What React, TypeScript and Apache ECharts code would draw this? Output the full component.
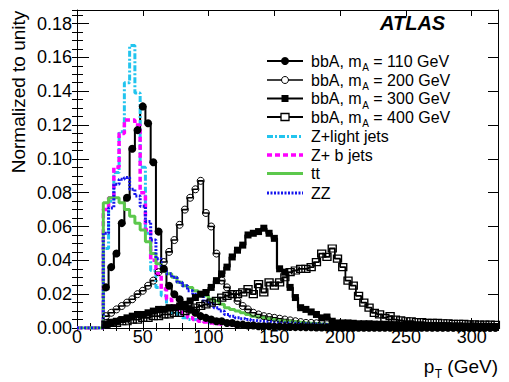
import React, { useEffect, useRef } from "react";
import * as echarts from "echarts";

const FONT = "'Liberation Sans', Arial, Helvetica, sans-serif";

// Histogram binning (GeV)
const BIN_WIDTH = 4;
const FIRST_EDGE = 20;
const X_MIN = 0;
const X_MAX = 320;
const Y_MIN = 0;
const Y_MAX = 0.188;
const X_MAJOR = 50;
const X_MINOR = 10;
const Y_MAJOR = 0.02;
const Y_MINOR = 0.005;

// bin contents for bins starting at 20, 24, 28, ... 316 GeV
const bbA110 = [
  0.024, 0.036, 0.044, 0.062, 0.077, 0.106, 0.117, 0.131, 0.121, 0.098,
  0.057, 0.035, 0.025, 0.02, 0.017, 0.013, 0.011, 0.009, 0.007, 0.006,
  0.005, 0.004, 0.004, 0.003, 0.003, 0.002, 0.002, 0.0015, 0.0015, 0.001,
  0.001, 0.001, 0.0008, 0.0008, 0.0006, 0.0006, 0.0005, 0.0005, 0.0004, 0.0004,
  0.0003, 0.0003, 0.0003, 0.0003, 0.0003, 0.0002, 0.0002, 0.0002, 0.0002, 0.0002,
  0.0002, 0.0002, 0.0001, 0.0001, 0.0001, 0.0001, 0.0001, 0.0001, 0.0001, 0.0001,
  0.0001, 0.0001, 0.0001, 0.0001, 0.0001, 0.0001, 0.0001, 0.0001, 0.0001, 0.0001,
  0.0001, 0.0001, 0.0001, 0.0001, 0.0001,
];
const bbA200 = [
  0.007, 0.009, 0.011, 0.013, 0.015, 0.017, 0.02, 0.022, 0.025, 0.028,
  0.033, 0.039, 0.045, 0.052, 0.061, 0.07, 0.077, 0.082, 0.087, 0.068,
  0.06, 0.044, 0.028, 0.024, 0.02, 0.016, 0.013, 0.011, 0.009, 0.008,
  0.007, 0.0065, 0.006, 0.0055, 0.005, 0.0045, 0.004, 0.0035, 0.003, 0.003,
  0.0028, 0.0025, 0.0022, 0.002, 0.002, 0.0018, 0.0016, 0.0015, 0.0014, 0.0012,
  0.0012, 0.001, 0.001, 0.0009, 0.0008, 0.0008, 0.0007, 0.0007, 0.0006, 0.0006,
  0.0005, 0.0005, 0.0005, 0.0004, 0.0004, 0.0004, 0.0003, 0.0003, 0.0003, 0.0003,
  0.0003, 0.0002, 0.0002, 0.0002, 0.0002,
];
const bbA300 = [
  0.002, 0.003, 0.004, 0.005, 0.006, 0.007, 0.008, 0.008, 0.009, 0.01,
  0.011, 0.011, 0.012, 0.012, 0.013, 0.014, 0.016, 0.018, 0.02, 0.021,
  0.024, 0.028, 0.032, 0.036, 0.042, 0.046, 0.049, 0.055, 0.056, 0.057,
  0.059, 0.056, 0.053, 0.035, 0.033, 0.024, 0.018, 0.012, 0.011, 0.0095,
  0.008, 0.006, 0.0065, 0.004, 0.003, 0.003, 0.003, 0.0028, 0.0025, 0.0025,
  0.0025, 0.0023, 0.0022, 0.002, 0.002, 0.002, 0.0018, 0.0018, 0.0016, 0.0016,
  0.0015, 0.0015, 0.0014, 0.0014, 0.0015, 0.0013, 0.0012, 0.0012, 0.0011, 0.0011,
  0.0012, 0.001, 0.001, 0.0009, 0.0009,
];
const bbA400 = [
  0.002, 0.003, 0.003, 0.004, 0.004, 0.005, 0.005, 0.006, 0.006, 0.007,
  0.007, 0.008, 0.008, 0.009, 0.009, 0.01, 0.011, 0.012, 0.013, 0.014,
  0.015, 0.016, 0.018, 0.019, 0.02, 0.02, 0.021, 0.023, 0.02, 0.026,
  0.021, 0.027, 0.025, 0.027, 0.03, 0.033, 0.034, 0.035, 0.035, 0.036,
  0.039, 0.044, 0.042, 0.047, 0.041, 0.036, 0.028, 0.025, 0.019, 0.015,
  0.012, 0.009, 0.008, 0.006, 0.007, 0.005, 0.0045, 0.004, 0.004, 0.0035,
  0.0035, 0.003, 0.003, 0.003, 0.0028, 0.0028, 0.0025, 0.0025, 0.0024, 0.0022,
  0.0022, 0.002, 0.002, 0.002, 0.0018,
];
const zLightJets = [
  0.047, 0.075, 0.092, 0.116, 0.145, 0.167, 0.139, 0.095, 0.056, 0.034,
  0.024, 0.019, 0.013, 0.009, 0.008, 0.006, 0.005, 0.005, 0.004, 0.004,
  0.003, 0.003, 0.0025, 0.0022, 0.002, 0.0018, 0.0016, 0.0014, 0.0012, 0.001,
  0.001, 0.0009, 0.0008, 0.0008, 0.0007, 0.0007, 0.0006, 0.0006, 0.0005, 0.0005,
  0.0005, 0.0004, 0.0004, 0.0004, 0.0004, 0.0003, 0.0003, 0.0003, 0.0003, 0.0003,
  0.0003, 0.0002, 0.0002, 0.0002, 0.0002, 0.0002, 0.0002, 0.0002, 0.0002, 0.0002,
  0.0002, 0.0002, 0.0002, 0.0002, 0.0002, 0.0002, 0.0002, 0.0002, 0.0002, 0.0002,
  0.0002, 0.0002, 0.0002, 0.0002, 0.0002,
];
const zBJets = [
  0.07, 0.077, 0.095, 0.115, 0.123, 0.123, 0.12, 0.08, 0.058, 0.04,
  0.032, 0.023, 0.017, 0.013, 0.011, 0.008, 0.006, 0.005, 0.004, 0.0035,
  0.003, 0.0025, 0.0022, 0.002, 0.0018, 0.0016, 0.0014, 0.0012, 0.0011, 0.001,
  0.001, 0.0009, 0.0008, 0.0007, 0.0007, 0.0006, 0.0006, 0.0005, 0.0005, 0.0005,
  0.0004, 0.0004, 0.0004, 0.0004, 0.0003, 0.0003, 0.0003, 0.0003, 0.0003, 0.0003,
  0.0002, 0.0002, 0.0002, 0.0002, 0.0002, 0.0002, 0.0002, 0.0002, 0.0002, 0.0002,
  0.0002, 0.0002, 0.0002, 0.0002, 0.0002, 0.0002, 0.0002, 0.0002, 0.0002, 0.0002,
  0.0002, 0.0002, 0.0002, 0.0002, 0.0002,
];
const ttbar = [
  0.074, 0.077, 0.077, 0.074, 0.07, 0.066, 0.062, 0.058, 0.051, 0.044,
  0.038, 0.034, 0.032, 0.03, 0.027, 0.025, 0.024, 0.022, 0.021, 0.019,
  0.017, 0.016, 0.014, 0.012, 0.011, 0.01, 0.009, 0.008, 0.007, 0.0065,
  0.006, 0.0055, 0.005, 0.0045, 0.0042, 0.004, 0.0037, 0.0034, 0.003, 0.0028,
  0.0026, 0.0024, 0.0022, 0.002, 0.0019, 0.0018, 0.0016, 0.0015, 0.0014, 0.0013,
  0.0012, 0.0011, 0.001, 0.001, 0.0009, 0.0009, 0.0008, 0.0008, 0.0007, 0.0007,
  0.0006, 0.0006, 0.0006, 0.0005, 0.0005, 0.0005, 0.0005, 0.0004, 0.0004, 0.0004,
  0.0004, 0.0004, 0.0003, 0.0003, 0.0003,
];
const zz = [
  0.056, 0.071, 0.085, 0.088, 0.089, 0.082, 0.078, 0.072, 0.063, 0.052,
  0.041, 0.035, 0.032, 0.03, 0.027, 0.025, 0.022, 0.02, 0.019, 0.016,
  0.014, 0.012, 0.01, 0.008, 0.007, 0.006, 0.0055, 0.005, 0.0045, 0.0042,
  0.004, 0.0038, 0.0035, 0.0033, 0.003, 0.003, 0.0028, 0.0026, 0.0025, 0.0024,
  0.0023, 0.0022, 0.0021, 0.002, 0.002, 0.0019, 0.0019, 0.0018, 0.0018, 0.0017,
  0.0017, 0.0016, 0.0016, 0.0015, 0.0015, 0.0015, 0.0014, 0.0014, 0.0014, 0.0013,
  0.0013, 0.0013, 0.0012, 0.0012, 0.0012, 0.0012, 0.0011, 0.0011, 0.0011, 0.0011,
  0.001, 0.001, 0.001, 0.001, 0.001,
];

type Def = {
  label: string[]; // [main, subscript, rest]
  values: number[];
  color: string;
  width: number;
  dash?: number[];
  symbol?: string;
  size?: number | number[];
  fill?: string;
  border?: number;
};

const defs: Def[] = [
  { label: ["bbA, m", "A", " = 110 GeV"], values: bbA110, color: "#000", width: 2, symbol: "circle", size: 8, fill: "#000", border: 0 },
  { label: ["bbA, m", "A", " = 200 GeV"], values: bbA200, color: "#000", width: 1.6, symbol: "circle", size: 7, fill: "rgba(255,255,255,0)", border: 1 },
  { label: ["bbA, m", "A", " = 300 GeV"], values: bbA300, color: "#000", width: 2.2, symbol: "rect", size: 7, fill: "#000", border: 0 },
  { label: ["bbA, m", "A", " = 400 GeV"], values: bbA400, color: "#000", width: 1.8, symbol: "rect", size: [8, 7], fill: "rgba(255,255,255,0)", border: 1.3 },
  { label: ["Z+light jets"], values: zLightJets, color: "#22c4ee", width: 3, dash: [6, 2, 2, 2] },
  { label: ["Z+ b jets"], values: zBJets, color: "#ff00ff", width: 3.5, dash: [5, 3] },
  { label: ["tt"], values: ttbar, color: "#5cc84c", width: 3 },
  { label: ["ZZ"], values: zz, color: "#1414ee", width: 3, dash: [2, 1.5] },
];

function histPoints(values: number[]) {
  const pts: any[] = [
    { value: [X_MIN, 0], symbol: "none" },
    { value: [FIRST_EDGE, 0], symbol: "none" },
    { value: [FIRST_EDGE, values[0]], symbol: "none" },
  ];
  values.forEach((v, i) => {
    pts.push({ value: [FIRST_EDGE + BIN_WIDTH * (i + 0.5), v] });
  });
  pts.push({
    value: [FIRST_EDGE + BIN_WIDTH * values.length, values[values.length - 1]],
    symbol: "none",
  });
  return pts;
}

let measureCtx: CanvasRenderingContext2D | null = null;
function textWidth(text: string, size: number) {
  if (!measureCtx) measureCtx = document.createElement("canvas").getContext("2d");
  if (!measureCtx) return text.length * size * 0.55;
  measureCtx.font = size + "px " + FONT;
  return measureCtx.measureText(text).width;
}

function txt(text: string, x: number, y: number, size: number, extra: any = {}) {
  return {
    type: "text",
    x,
    y,
    silent: true,
    ...extra,
    style: {
      text,
      font: (extra.fontPrefix || "") + size + "px " + FONT,
      fill: "#000",
      textAlign: extra.align || "left",
      textVerticalAlign: "middle",
      align: extra.align || "left",
      verticalAlign: "middle",
    },
  };
}

// text with subscript, left edge at x, middle at y
function subText(parts: string[], x: number, y: number, size: number, subSize: number, subDy: number) {
  const els: any[] = [txt(parts[0], x, y, size)];
  if (parts.length > 1) {
    const w0 = textWidth(parts[0], size);
    const w1 = textWidth(parts[1], subSize);
    els.push(txt(parts[1], x + w0 + 0.5, y + subDy, subSize));
    els.push(txt(parts[2], x + w0 + w1 + 0.5, y, size));
  }
  return els;
}

const LEG_Y = [61, 80, 98.5, 117, 136.5, 155, 173.5, 193];
const LEG_X1 = 267;
const LEG_X2 = 303;
const LEG_TX = 311;

function legendGraphics() {
  const els: any[] = [];
  defs.forEach((d, i) => {
    const y = LEG_Y[i];
    els.push({
      type: "line",
      shape: { x1: LEG_X1, y1: y, x2: LEG_X2, y2: y },
      style: { stroke: d.color, lineWidth: d.width, lineDash: d.dash || null },
      silent: true,
    });
    const cx = (LEG_X1 + LEG_X2) / 2;
    if (d.symbol === "circle") {
      const r = (d.size as number) / 2;
      els.push({
        type: "circle",
        shape: { cx, cy: y, r },
        style: { fill: d.fill === "#000" ? "#000" : "#fff", stroke: "#000", lineWidth: d.border || 0 },
        silent: true,
      });
    } else if (d.symbol === "rect") {
      const s = Array.isArray(d.size) ? d.size : [d.size as number, d.size as number];
      els.push({
        type: "rect",
        shape: { x: cx - s[0] / 2, y: y - s[1] / 2, width: s[0], height: s[1] },
        style: { fill: d.fill === "#000" ? "#000" : "#fff", stroke: "#000", lineWidth: d.border || 0 },
        silent: true,
      });
    }
    els.push(...subText(d.label, LEG_TX, y, 16, 10, 6.5));
  });
  return els;
}

function xTitle() {
  const parts = ["p", "T", " (GeV)"];
  const size = 19;
  const subSize = 12;
  const total = textWidth(parts[0], size) + textWidth(parts[1], subSize) + textWidth(parts[2], size) + 0.5;
  return subText(parts, 498 - total, 366, size, subSize, 8);
}

export default function App() {
  const ref = useRef<HTMLDivElement>(null);
  useEffect(() => {
    if (!ref.current) return;
    const chart = echarts.init(ref.current, undefined, { renderer: "svg" });
    const axisLineStyle = { color: "#000", width: 1 };
    const tickStyle = { color: "#000", width: 1 };
    const baseX = { type: "value", min: X_MIN, max: X_MAX, gridIndex: 0, splitLine: { show: false } };
    const baseY = { type: "value", min: Y_MIN, max: Y_MAX, gridIndex: 0, splitLine: { show: false } };
    const option: any = {
      animation: false,
      backgroundColor: "#fff",
      grid: { left: 77, right: 11, top: 10, bottom: 54, containLabel: false },
      xAxis: [
        {
          ...baseX,
          position: "bottom",
          interval: X_MAJOR,
          axisLine: { show: true, onZero: false, lineStyle: axisLineStyle },
          axisTick: { show: true, inside: true, length: 10, lineStyle: tickStyle },
          axisLabel: {
            show: true, margin: 0, fontSize: 18, fontFamily: FONT, color: "#000",
            showMaxLabel: false, formatter: (v: number) => String(v),
          },
        },
        {
          ...baseX,
          position: "bottom",
          interval: X_MINOR,
          axisLine: { show: false },
          axisTick: { show: true, inside: true, length: 5, lineStyle: tickStyle },
          axisLabel: { show: false },
        },
        {
          ...baseX,
          position: "top",
          interval: X_MAJOR,
          axisLine: { show: true, onZero: false, lineStyle: axisLineStyle },
          axisTick: { show: true, inside: true, length: 6, lineStyle: tickStyle },
          axisLabel: { show: false },
        },
        {
          ...baseX,
          position: "top",
          interval: X_MINOR,
          axisLine: { show: false },
          axisTick: { show: true, inside: true, length: 3, lineStyle: tickStyle },
          axisLabel: { show: false },
        },
      ],
      yAxis: [
        {
          ...baseY,
          position: "left",
          interval: Y_MAJOR,
          axisLine: { show: true, onZero: false, lineStyle: axisLineStyle },
          axisTick: { show: true, inside: true, length: 12, lineStyle: tickStyle },
          axisLabel: {
            show: true, margin: 5, fontSize: 18, fontFamily: FONT, color: "#000",
            showMaxLabel: false, formatter: (v: number) => v.toFixed(2),
          },
        },
        {
          ...baseY,
          position: "left",
          interval: Y_MINOR,
          axisLine: { show: false },
          axisTick: { show: true, inside: true, length: 6, lineStyle: tickStyle },
          axisLabel: { show: false },
        },
        {
          ...baseY,
          position: "right",
          interval: Y_MAJOR,
          axisLine: { show: true, onZero: false, lineStyle: axisLineStyle },
          axisTick: { show: true, inside: true, length: 10, lineStyle: tickStyle },
          axisLabel: { show: false },
        },
        {
          ...baseY,
          position: "right",
          interval: Y_MINOR,
          axisLine: { show: false },
          axisTick: { show: true, inside: true, length: 5, lineStyle: tickStyle },
          axisLabel: { show: false },
        },
      ],
      series: defs.map((d) => ({
        type: "line",
        name: d.label.join(""),
        xAxisIndex: 0,
        yAxisIndex: 0,
        step: "middle",
        data: histPoints(d.values),
        showSymbol: !!d.symbol,
        showAllSymbol: true,
        symbol: d.symbol || "none",
        symbolSize: d.size || 0,
        silent: true,
        clip: true,
        lineStyle: { color: d.color, width: d.width, type: d.dash || "solid", cap: "butt" },
        itemStyle: d.symbol
          ? { color: d.fill, borderColor: "#000", borderWidth: d.border || 0 }
          : { color: d.color },
        emphasis: { disabled: true },
      })),
      graphic: [
        ...legendGraphics(),
        txt("ATLAS", 380, 23, 20, { fontPrefix: "italic bold " }),
        {
          ...txt("Normalized to unity", 18, 92, 19, { align: "center" }),
          rotation: Math.PI / 2,
        },
        ...xTitle(),
      ],
    };
    chart.setOption(option);
    return () => chart.dispose();
  }, []);
  return (
    <div
      ref={ref}
      style={{ position: "fixed", left: 0, top: 0, width: 509, height: 382, background: "#fff" }}
    />
  );
}
